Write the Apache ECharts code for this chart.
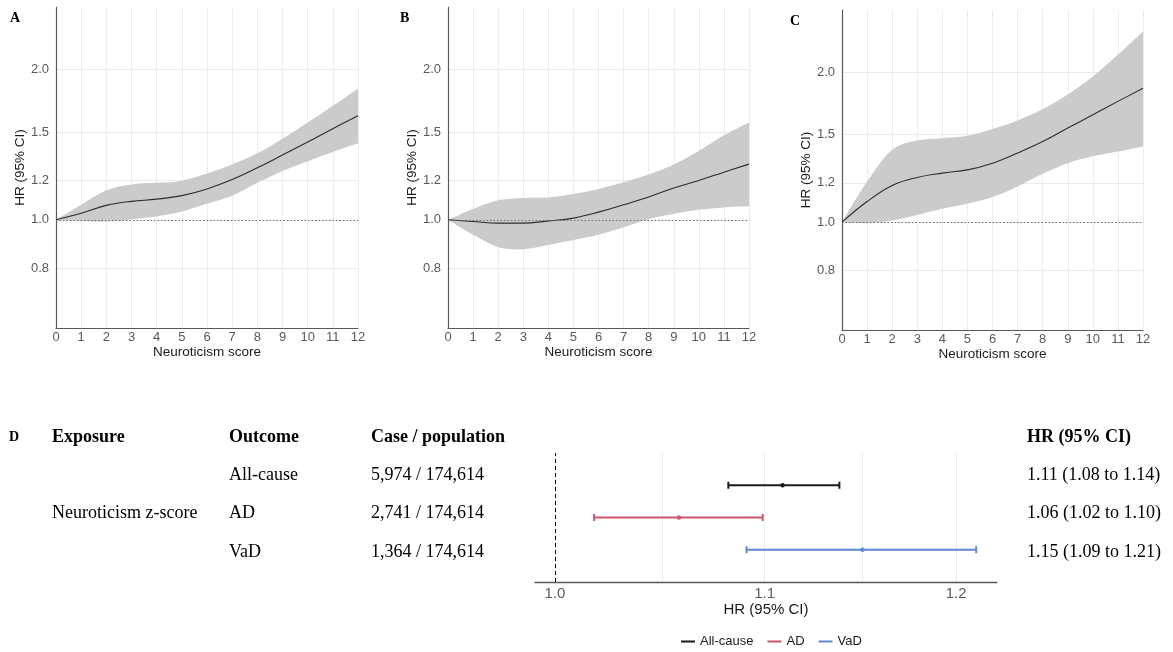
<!DOCTYPE html>
<html>
<head>
<meta charset="utf-8">
<script src="https://cdn.jsdelivr.net/npm/echarts@6/dist/echarts.min.js"></script>
<style>
html,body{margin:0;padding:0;background:#fff;}
#chart{width:1173px;height:652px;}
</style>
</head>
<body>
<div id="chart"></div>
<script>
// ---------- DATA ----------
const xScores = [0,1,2,3,4,5,6,7,8,9,10,11,12];
const yTicks = [0.8, 1.0, 1.2, 1.5, 2.0];

const hrA = [1.000,1.031,1.069,1.089,1.100,1.118,1.153,1.204,1.271,1.348,1.432,1.523,1.616];
const loA = [1.000,0.995,0.992,1.003,1.016,1.039,1.077,1.118,1.186,1.252,1.311,1.367,1.423];
const hiA = [1.000,1.072,1.146,1.177,1.186,1.198,1.238,1.291,1.359,1.454,1.566,1.692,1.834];

const hrB = [1.000,0.992,0.985,0.985,0.995,1.008,1.036,1.072,1.111,1.158,1.199,1.246,1.293];
const loB = [1.000,0.933,0.881,0.873,0.890,0.911,0.933,0.966,1.003,1.028,1.047,1.059,1.064];
const hiB = [1.000,1.051,1.094,1.106,1.109,1.127,1.153,1.189,1.232,1.291,1.374,1.477,1.567];

const hrC = [1.000,1.100,1.185,1.230,1.255,1.274,1.314,1.377,1.452,1.546,1.644,1.749,1.858];
const loC = [1.000,0.995,1.008,1.034,1.064,1.089,1.123,1.180,1.251,1.314,1.356,1.387,1.420];
const hiC = [1.000,1.207,1.398,1.460,1.475,1.491,1.539,1.601,1.688,1.806,1.963,2.172,2.418];

const panelLetters = ['A','B','C'];

const exposureLabel = 'Neuroticism z-score';
const outcomes = ['All-cause','AD','VaD'];
const casesPop = ['5,974 / 174,614','2,741 / 174,614','1,364 / 174,614'];
const hrPoint = [1.109, 1.058, 1.150];
const hrLower = [1.082, 1.018, 1.091];
const hrUpper = [1.138, 1.099, 1.211];
const hrText = ['1.11 (1.08 to 1.14)','1.06 (1.02 to 1.10)','1.15 (1.09 to 1.21)'];
const tableHeaders = ['Exposure','Outcome','Case / population','HR (95% CI)'];
const forestTicks = [1.0, 1.1, 1.2];
const forestGrid = [1.0, 1.05, 1.1, 1.15, 1.2];
const outcomeColors = ['#1a1a1a','#cd556e','#5f87d2'];

// ---------- LAYOUT ----------
const sans = 'Liberation Sans, Arial, sans-serif';
const serif = '"Liberation Serif", "Times New Roman", serif';
const panels = [
  {left:56, top:7, width:302, height:321, hr:hrA, lo:loA, hi:hiA, lx:10, ly:18},
  {left:448, top:7, width:301, height:321, hr:hrB, lo:loB, hi:hiB, lx:400, ly:18},
  {left:842, top:10, width:301, height:320, hr:hrC, lo:loC, hi:hiC, lx:790, ly:21}
];

// Catmull-Rom -> cubic bezier path segments through pixel points
function smoothSegs(pts, t) {
  let d = '';
  for (let i = 0; i < pts.length - 1; i++) {
    const p0 = pts[Math.max(i - 1, 0)], p1 = pts[i], p2 = pts[i + 1], p3 = pts[Math.min(i + 2, pts.length - 1)];
    const c1 = [p1[0] + (p2[0] - p0[0]) * t, p1[1] + (p2[1] - p0[1]) * t];
    const c2 = [p2[0] - (p3[0] - p1[0]) * t, p2[1] - (p3[1] - p1[1]) * t];
    d += ' C' + c1[0] + ',' + c1[1] + ' ' + c2[0] + ',' + c2[1] + ' ' + p2[0] + ',' + p2[1];
  }
  return d;
}

const grids = [], xAxes = [], yAxes = [], series = [], graphics = [];

panels.forEach((p, i) => {
  grids.push({left:p.left, top:p.top, width:p.width, height:p.height, containLabel:false});
  xAxes.push({
    gridIndex:i, type:'value', min:0, max:12, interval:1,
    name:'Neuroticism score', nameLocation:'middle', nameGap:17,
    nameTextStyle:{fontFamily:sans, fontSize:13.5, color:'#1a1a1a'},
    axisLine:{show:true, onZero:false, lineStyle:{color:'#595959', width:1.2}},
    axisTick:{show:false},
    axisLabel:{fontFamily:sans, fontSize:13, color:'#595959', margin:3},
    splitLine:{show:true, lineStyle:{color:'#ebebeb', width:1}}
  });
  yAxes.push({
    gridIndex:i, type:'log', logBase:10, min:0.607, max:2.67,
    name:'HR (95% CI)', nameLocation:'middle', nameGap:20, nameRotate:90,
    nameTextStyle:{fontFamily:sans, fontSize:13.5, color:'#1a1a1a'},
    axisLine:{show:true, lineStyle:{color:'#595959', width:1.2}},
    axisTick:{show:false, customValues:yTicks},
    axisLabel:{fontFamily:sans, fontSize:13, color:'#595959', margin:7,
      customValues:yTicks, formatter:v => Number(v).toFixed(1)},
    splitLine:{show:true, lineStyle:{color:'#ebebeb', width:1}},
    minorTick:{show:false}, minorSplitLine:{show:false}
  });
  // confidence band drawn as a filled path through the axis scales
  series.push({
    type:'custom', xAxisIndex:i, yAxisIndex:i, silent:true, z:1,
    data:[[0, 1]], encode:{x:0, y:1},
    renderItem:function(params, api){
      const up = xScores.map((x,k) => api.coord([x, p.hi[k]]));
      const dn = xScores.map((x,k) => api.coord([x, p.lo[k]])).reverse();
      let d = 'M' + up[0][0] + ',' + up[0][1] + smoothSegs(up, 1/6);
      d += ' L' + dn[0][0] + ',' + dn[0][1] + smoothSegs(dn, 1/6) + ' Z';
      return {type:'path', shape:{pathData:d}, style:{fill:'#cbcbcb', stroke:null}};
    }
  });
  series.push({
    type:'line', xAxisIndex:i, yAxisIndex:i, data:xScores.map((x,k)=>[x,p.hr[k]]),
    showSymbol:false, smooth:0.4, lineStyle:{color:'#2b2b2b', width:1.1}, z:3,
    markLine:{silent:true, symbol:'none', label:{show:false},
      lineStyle:{color:'#6e6e6e', type:[1.5,2], width:1.2},
      data:[{yAxis:1.0}]}
  });
  graphics.push({type:'text', x:p.lx, y:p.ly, style:{text:panelLetters[i],
    font:'bold 14px ' + serif, fill:'#000', verticalAlign:'middle', align:'left'}});
});

// Forest plot grid (index 3)
grids.push({left:535, top:453, width:462, height:129});
xAxes.push({
  gridIndex:3, type:'log', logBase:10, min:0.991, max:1.2225,
  name:'HR (95% CI)', nameLocation:'middle', nameGap:20,
  nameTextStyle:{fontFamily:sans, fontSize:15, color:'#1a1a1a'},
  axisLine:{show:true, onZero:false, lineStyle:{color:'#595959', width:1.4}},
  axisTick:{show:false, customValues:forestGrid},
  axisLabel:{fontFamily:sans, fontSize:15, color:'#595959', margin:4,
    customValues:forestTicks, formatter:v => Number(v).toFixed(1)},
  splitLine:{show:true, lineStyle:{color:'#ebebeb', width:1}},
  minorTick:{show:false}, minorSplitLine:{show:false}
});
yAxes.push({gridIndex:3, type:'value', min:0, max:4, show:false,
  splitLine:{show:false}});

outcomes.forEach((name, k) => {
  const row = 3 - k;
  series.push({
    type:'custom', name:name, xAxisIndex:3, yAxisIndex:3,
    itemStyle:{color:outcomeColors[k]},
    data:[[hrLower[k], hrUpper[k], hrPoint[k], row]],
    encode:{x:[0,1,2], y:3},
    renderItem:function(params, api){
      const a = api.coord([api.value(0), api.value(3)]);
      const b = api.coord([api.value(1), api.value(3)]);
      const m = api.coord([api.value(2), api.value(3)]);
      const c = outcomeColors[k];
      const st = {stroke:c, lineWidth:2};
      return {type:'group', children:[
        {type:'line', shape:{x1:a[0], y1:a[1], x2:b[0], y2:b[1]}, style:st},
        {type:'line', shape:{x1:a[0], y1:a[1]-3.5, x2:a[0], y2:a[1]+3.5}, style:st},
        {type:'line', shape:{x1:b[0], y1:b[1]-3.5, x2:b[0], y2:b[1]+3.5}, style:st},
        {type:'circle', shape:{cx:m[0], cy:m[1], r:2.2}, style:{fill:c}}
      ]};
    },
    z:3
  });
});
// dashed reference line at HR = 1
series.push({
  type:'line', xAxisIndex:3, yAxisIndex:3, data:[], silent:true,
  markLine:{silent:true, symbol:'none', label:{show:false},
    lineStyle:{color:'#000', type:[4,3], width:1}, data:[{xAxis:1.0}]}
});

// Table text
const hdrY = 437, rowY = [475, 513, 552];
const colX = [52, 229, 371, 1027];
graphics.push({type:'text', x:9, y:hdrY, style:{text:'D', font:'bold 14px '+serif, fill:'#000', verticalAlign:'middle'}});
tableHeaders.forEach((h, j) => {
  graphics.push({type:'text', x:colX[j], y:hdrY, style:{text:h, font:'bold 18px '+serif, fill:'#000', verticalAlign:'middle'}});
});
graphics.push({type:'text', x:colX[0], y:rowY[1], style:{text:exposureLabel, font:'18px '+serif, fill:'#000', verticalAlign:'middle'}});
outcomes.forEach((o, k) => {
  graphics.push({type:'text', x:colX[1], y:rowY[k], style:{text:o, font:'18px '+serif, fill:'#000', verticalAlign:'middle'}});
  graphics.push({type:'text', x:colX[2], y:rowY[k], style:{text:casesPop[k], font:'18px '+serif, fill:'#000', verticalAlign:'middle'}});
  graphics.push({type:'text', x:colX[3], y:rowY[k], style:{text:hrText[k], font:'18px '+serif, fill:'#000', verticalAlign:'middle'}});
});

const chart = echarts.init(document.getElementById('chart'), null, {renderer:'canvas'});
chart.setOption({
  backgroundColor:'#ffffff',
  animation:false,
  grid:grids, xAxis:xAxes, yAxis:yAxes, series:series,
  legend:{
    data:outcomes, left:681, top:635, orient:'horizontal',
    icon:'rect', itemWidth:14, itemHeight:2, itemGap:14, padding:0,
    textStyle:{fontFamily:sans, fontSize:13, color:'#1a1a1a'},
    selectedMode:false
  },
  graphic:graphics
});
</script>
</body>
</html>
